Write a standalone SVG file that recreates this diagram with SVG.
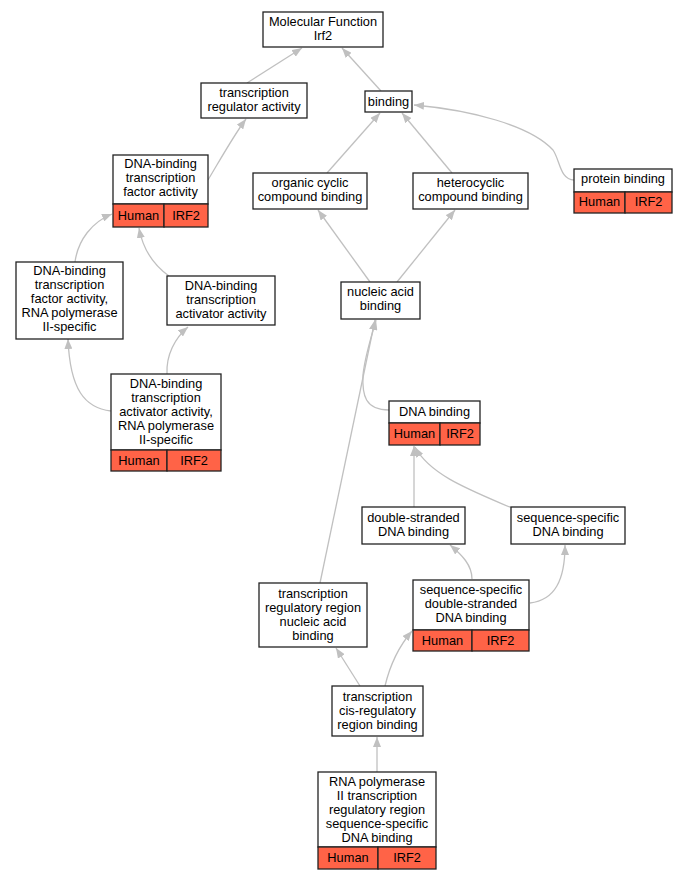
<svg xmlns="http://www.w3.org/2000/svg" width="687" height="880" viewBox="0 0 687 880">
<defs>
<marker id="arr" markerUnits="userSpaceOnUse" markerWidth="11" markerHeight="8" refX="10" refY="4" orient="auto">
<path d="M0,0 L10,4 L0,8 z" fill="#c0c0c0"/>
</marker>
<style>
text{font-family:"Liberation Sans",Arial,sans-serif;font-size:12.8px;fill:#000;text-anchor:middle}
.b{fill:#fff;stroke:#222;stroke-width:1.3}
.r{fill:#ff6347;stroke:#222;stroke-width:1.3}
.e{fill:none;stroke:#c0c0c0;stroke-width:1.3;marker-end:url(#arr)}
</style>
</defs>
<rect width="687" height="880" fill="#fff"/>
<g id="edges">
<path class="e" d="M247,83 L302,48"/>
<path class="e" d="M381,91 L342,48"/>
<path class="e" d="M208,180 C220,160 234,135 246,119"/>
<path class="e" d="M327,173 L380,113"/>
<path class="e" d="M452,173 L402,113"/>
<path class="e" d="M574,180 C560,180 560,160 553,150 C530,125 470,110 414,105"/>
<path class="e" d="M75,262 C78,240 92,222 112,214"/>
<path class="e" d="M169,276 C155,266 143,250 139,228"/>
<path class="e" d="M111,411 C85,408 70,390 68,339"/>
<path class="e" d="M167,374 C166,355 175,338 188,327"/>
<path class="e" d="M370,282 L318,210"/>
<path class="e" d="M397,282 L455,210"/>
<path class="e" d="M389,410 C365,410 362,395 363,375 C365,355 372,335 376,320"/>
<path class="e" d="M320,583 L375,320"/>
<path class="e" d="M414,507 L414,446"/>
<path class="e" d="M512,508 C470,490 430,475 415,447"/>
<path class="e" d="M472,579 C472,565 462,555 450,545"/>
<path class="e" d="M530,603 C555,600 565,580 565,545"/>
<path class="e" d="M360,686 L336,648"/>
<path class="e" d="M385,686 C390,665 400,645 412,631"/>
<path class="e" d="M377,772 L377,737"/>
</g>
<g id="n_mf">
<rect class="b" x="263" y="12" width="120" height="35"/>
<text x="323" y="26">Molecular Function</text>
<text x="323" y="40">Irf2</text>
</g>
<g id="n_tra">
<rect class="b" x="201" y="83" width="106" height="35"/>
<text x="254" y="97">transcription</text>
<text x="254" y="111">regulator activity</text>
</g>
<g id="n_binding">
<rect class="b" x="365" y="91" width="47" height="21"/>
<text x="388.5" y="106">binding</text>
</g>
<g id="n_tf">
<rect class="b" x="113" y="155" width="95" height="49"/>
<text x="160.5" y="168">DNA-binding</text>
<text x="160.5" y="182">transcription</text>
<text x="160.5" y="196">factor activity</text>
<rect class="r" x="113" y="204" width="51" height="23"/>
<rect class="r" x="164" y="204" width="44" height="23"/>
<text x="138.5" y="220">Human</text>
<text x="186" y="220">IRF2</text>
</g>
<g id="n_organic">
<rect class="b" x="253" y="173" width="114" height="36"/>
<text x="310" y="187">organic cyclic</text>
<text x="310" y="201">compound binding</text>
</g>
<g id="n_hetero">
<rect class="b" x="413" y="173" width="115" height="36"/>
<text x="470.5" y="187">heterocyclic</text>
<text x="470.5" y="201">compound binding</text>
</g>
<g id="n_protein">
<rect class="b" x="574" y="169" width="98" height="23"/>
<text x="623" y="183">protein binding</text>
<rect class="r" x="574" y="192" width="51" height="21"/>
<rect class="r" x="625" y="192" width="47" height="21"/>
<text x="599.5" y="206">Human</text>
<text x="648.5" y="206">IRF2</text>
</g>
<g id="n_nucleic">
<rect class="b" x="341" y="282" width="79" height="37"/>
<text x="380.5" y="296">nucleic acid</text>
<text x="380.5" y="310">binding</text>
</g>
<g id="n_tf2">
<rect class="b" x="16" y="262" width="107" height="77"/>
<text x="69.5" y="275">DNA-binding</text>
<text x="69.5" y="289">transcription</text>
<text x="69.5" y="303">factor activity,</text>
<text x="69.5" y="317">RNA polymerase</text>
<text x="69.5" y="331">II-specific</text>
</g>
<g id="n_act">
<rect class="b" x="167" y="276" width="108" height="49"/>
<text x="221" y="290">DNA-binding</text>
<text x="221" y="304">transcription</text>
<text x="221" y="318">activator activity</text>
</g>
<g id="n_act2">
<rect class="b" x="111" y="374" width="110" height="76"/>
<text x="166" y="388">DNA-binding</text>
<text x="166" y="402">transcription</text>
<text x="166" y="416">activator activity,</text>
<text x="166" y="430">RNA polymerase</text>
<text x="166" y="444">II-specific</text>
<rect class="r" x="111" y="450" width="56" height="21"/>
<rect class="r" x="167" y="450" width="54" height="21"/>
<text x="139" y="465">Human</text>
<text x="194" y="465">IRF2</text>
</g>
<g id="n_dna">
<rect class="b" x="389" y="401" width="91" height="22"/>
<text x="434.5" y="416">DNA binding</text>
<rect class="r" x="389" y="423" width="51" height="22"/>
<rect class="r" x="440" y="423" width="40" height="22"/>
<text x="414.5" y="438">Human</text>
<text x="460" y="438">IRF2</text>
</g>
<g id="n_ds">
<rect class="b" x="362" y="507" width="103" height="37"/>
<text x="413.5" y="522">double-stranded</text>
<text x="413.5" y="536">DNA binding</text>
</g>
<g id="n_ss">
<rect class="b" x="511" y="507" width="114" height="37"/>
<text x="568" y="522">sequence-specific</text>
<text x="568" y="536">DNA binding</text>
</g>
<g id="n_trr">
<rect class="b" x="259" y="583" width="108" height="64"/>
<text x="313" y="598">transcription</text>
<text x="313" y="612">regulatory region</text>
<text x="313" y="626">nucleic acid</text>
<text x="313" y="640">binding</text>
</g>
<g id="n_ssds">
<rect class="b" x="413" y="580" width="116" height="50"/>
<text x="471" y="594">sequence-specific</text>
<text x="471" y="608">double-stranded</text>
<text x="471" y="622">DNA binding</text>
<rect class="r" x="413" y="630" width="59" height="21"/>
<rect class="r" x="472" y="630" width="57" height="21"/>
<text x="442.5" y="645">Human</text>
<text x="500.5" y="645">IRF2</text>
</g>
<g id="n_cis">
<rect class="b" x="332" y="686" width="91" height="50"/>
<text x="377.5" y="701">transcription</text>
<text x="377.5" y="715">cis-regulatory</text>
<text x="377.5" y="729">region binding</text>
</g>
<g id="n_rnap">
<rect class="b" x="318" y="772" width="118" height="75"/>
<text x="377" y="786">RNA polymerase</text>
<text x="377" y="800">II transcription</text>
<text x="377" y="814">regulatory region</text>
<text x="377" y="828">sequence-specific</text>
<text x="377" y="842">DNA binding</text>
<rect class="r" x="318" y="847" width="60" height="22"/>
<rect class="r" x="378" y="847" width="58" height="22"/>
<text x="348" y="862">Human</text>
<text x="407" y="862">IRF2</text>
</g>
</svg>
